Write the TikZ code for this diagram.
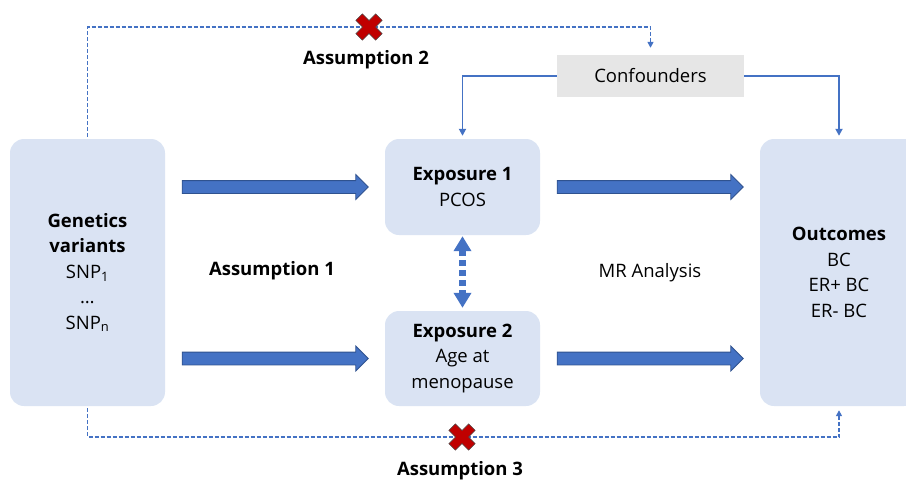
\documentclass[tikz,border=0pt]{standalone}
\usepackage{fontspec}
\setmainfont{Open Sans}
\usetikzlibrary{positioning, calc, arrows.meta, shapes.arrows}
\definecolor{boxblue}{HTML}{DAE3F3}
\definecolor{linkblue}{HTML}{4472C4}
\definecolor{edgeblue}{HTML}{2F528F}
\definecolor{confgray}{HTML}{E6E6E6}
\definecolor{crossred}{HTML}{C00000}
\tikzset{
    box/.style={fill=boxblue, rounded corners=14pt, align=center, font=\fontsize{18.5}{25.5}\selectfont},
    confbox/.style={fill=confgray, minimum width=187pt, minimum height=42pt, font=\fontsize{18.5}{25}\selectfont},
    fatarrow/.style={single arrow, draw=edgeblue, fill=linkblue, line width=0.8pt, xshift=-3pt,
        minimum height=186pt, single arrow head extend=6pt, single arrow head indent=0pt, inner sep=0pt},
    dashlink/.style={draw=linkblue, line width=1.5pt, dash pattern=on 4pt off 2pt, -{Triangle[length=6pt,width=6pt]}},
    solidlink/.style={draw=linkblue, line width=1.8pt, -{Triangle[length=7pt,width=7pt]}},
    dotarrow/.style={draw=linkblue, line width=7pt, dash pattern=on 6pt off 4pt,
        {Triangle[length=15pt,width=17pt]}-{Triangle[length=15pt,width=17pt]}},
    asmlabel/.style={font=\bfseries\fontsize{18.5}{20}\selectfont},
    plain/.style={font=\fontsize{18.5}{20}\selectfont},
    redx/.pic={
        \fill[crossred, draw=black!70, line width=0.6pt, rotate=45]
            (4.6,14) -- (4.6,4.6) -- (14,4.6) -- (14,-4.6) -- (4.6,-4.6) -- (4.6,-14)
            -- (-4.6,-14) -- (-4.6,-4.6) -- (-14,-4.6) -- (-14,4.6) -- (-4.6,4.6) -- (-4.6,14) -- cycle;
    },
}
\newcommand{\shaft}{\rule{0pt}{12pt}}

\begin{document}
\begin{tikzpicture}[x=1pt, y=-1pt]
    \useasboundingbox (0,0) rectangle (906,483);
    % boxes
    \node[box, minimum width=155pt, minimum height=267pt] (gen) at (87.5,272.5)
        {\textbf{Genetics}\\\textbf{variants}\\SNP\textsubscript{1}\\\dots\\SNP\textsubscript{n}};
    \node[box, minimum width=155pt, minimum height=96pt] (ex1) at (462.5,187)
        {\textbf{Exposure 1}\\PCOS};
    \node[box, minimum width=155pt, minimum height=95pt] (ex2) at (462.5,358.5)
        {\textbf{Exposure 2}\\Age at\\menopause};
    \node[box, minimum width=158pt, minimum height=267pt] (out) at (839,272.5)
        {\textbf{Outcomes}\\BC\\ER+ BC\\ER- BC};
    \node[confbox] (conf) at (650.5,76) {Confounders};

    % fat arrows
    \node[fatarrow] (ga1) at ($(gen.east |- ex1)!0.5!(ex1.west)$) {\shaft};
    \node[fatarrow] (ga2) at ($(gen.east |- ex2)!0.5!(ex2.west)$) {\shaft};
    \node[fatarrow] (ea1) at ($(ex1.east)!0.5!(out.west |- ex1)$) {\shaft};
    \node[fatarrow] (ea2) at ($(ex2.east)!0.5!(out.west |- ex2)$) {\shaft};

    \draw[dotarrow, shorten <=1pt, shorten >=3pt] (ex1.south) -- (ex2.north);

    % confounders
    \draw[solidlink, shorten >=3pt] (conf.west) -| (ex1.north);
    \draw[solidlink, shorten >=3pt] (conf.east) -| (out.north);

    % assumptions 2 and 3
    \draw[dashlink, shorten <=2pt, shorten >=7pt] (gen.north) -- ++(0,-112) coordinate (topleft) -| (conf.north);
    \draw[dashlink, shorten <=2pt, shorten >=4pt] (gen.south) -- ++(0,31) coordinate (botleft) -| (out.south);
    \pic at (369,27) {redx};
    \pic at (462,437) {redx};

    \node[asmlabel] (as1) at (272,271) {Assumption 1};
    \node[asmlabel] (as2) at (366,60) {Assumption 2};
    \node[asmlabel] (as3) at (460,471) {Assumption 3};
    \node[plain] (mr) at (650,273) {MR Analysis};
\end{tikzpicture}
\end{document}
